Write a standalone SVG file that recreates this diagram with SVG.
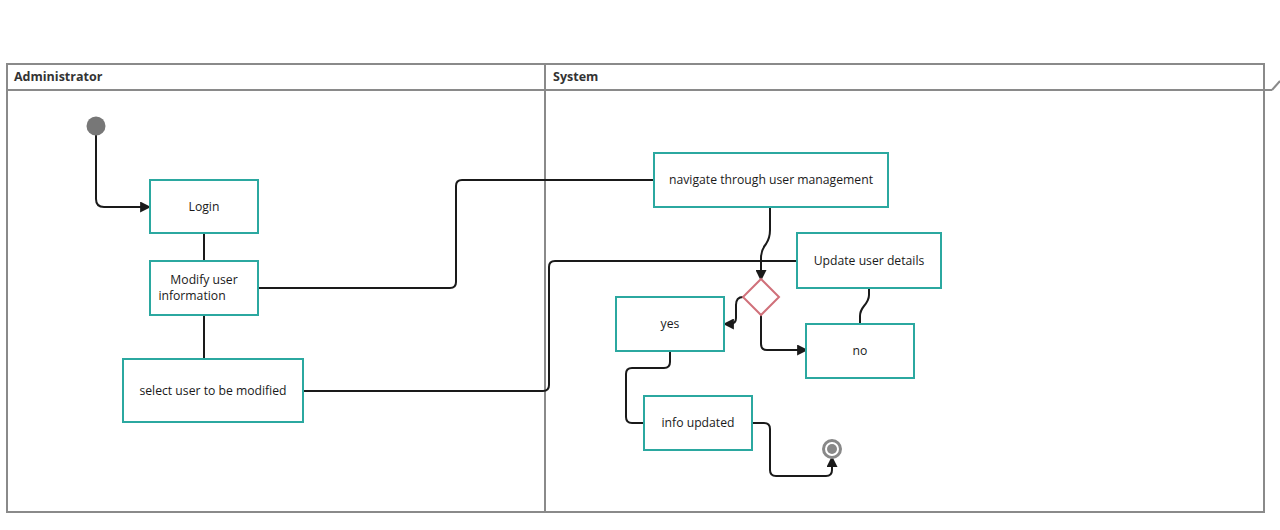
<svg xmlns="http://www.w3.org/2000/svg" width="1280" height="530" viewBox="0 0 1280 530">
<defs>
<marker id="arr" viewBox="0 0 10 10" refX="9" refY="5" markerWidth="11" markerHeight="11" markerUnits="userSpaceOnUse" orient="auto">
<path d="M0,0 L10,5 L0,10 Z" fill="#1a1a1a"/>
</marker>
<style>
.lane{fill:none;stroke:#8a8a8a;stroke-width:2}
.title{font-family:"Open Sans","Noto Sans",sans-serif;font-size:12.5px;font-weight:bold;fill:#333}
.box{fill:#fff;stroke:#2ba8a0;stroke-width:2}
.lbl{font-family:"Open Sans","Noto Sans",sans-serif;font-size:12.2px;fill:#1a1a1a;text-anchor:middle;dominant-baseline:central}
.c{fill:none;stroke:#1a1a1a;stroke-width:2}
</style>
</defs>
<rect width="1280" height="530" fill="#fff"/>
<g id="lanes">
<rect class="lane" x="7" y="64" width="1257" height="448"/>
<line class="lane" x1="7" y1="90" x2="1272" y2="90"/>
<line class="lane" x1="1272" y1="90" x2="1280" y2="81" stroke-width="1"/>
<line class="lane" x1="545" y1="64" x2="545" y2="512"/>
<text class="title" x="14" y="81">Administrator</text>
<text class="title" x="553" y="81">System</text>
</g>
<g id="connectors">
<path class="c" d="M96,135 V199 Q96,207 104,207 H150" marker-end="url(#arr)"/>
<path class="c" d="M204,233 V261"/>
<path class="c" d="M204,315 V359"/>
<path class="c" d="M258,288 H450 Q456,288 456,282 V186 Q456,180 462,180 H654"/>
<path class="c" d="M303,391 H543 Q549,391 549,385 V267 Q549,261 555,261 H797"/>
<path class="c" d="M770,207 V230 Q770,238 766,244 Q761,250 761,258 V280" marker-end="url(#arr)"/>
<path class="c" d="M743,297 Q736,297 736,305 V318 Q736,324 730,324 H724" marker-end="url(#arr)"/>
<path class="c" d="M761,315 V344 Q761,350 767,350 H807" marker-end="url(#arr)"/>
<path class="c" d="M869,288 V295 Q869,300 864,306 Q860,311 860,316 V324"/>
<path class="c" d="M670,351 V362 Q670,368 664,368 H632 Q626,368 626,374 V417 Q626,423 632,423 H644"/>
<path class="c" d="M752,423 H764 Q770,423 770,429 V470 Q770,476 776,476 H826 Q832,476 832,470 V457" marker-end="url(#arr)"/>
</g>
<g id="start"><circle cx="96" cy="126" r="9.5" fill="#777"/></g>
<g id="login"><rect class="box" x="150" y="180" width="108" height="53"/><text class="lbl" x="204" y="206">Login</text></g>
<g id="modify"><rect class="box" x="150" y="261" width="108" height="54"/><text class="lbl" x="204" y="279">Modify user</text><text class="lbl" x="192" y="295">information</text></g>
<g id="select"><rect class="box" x="123" y="359" width="180" height="63"/><text class="lbl" x="213" y="390">select user to be modified</text></g>
<g id="navigate"><rect class="box" x="654" y="153" width="234" height="54"/><text class="lbl" x="771" y="179">navigate through user management</text></g>
<g id="update"><rect class="box" x="797" y="233" width="144" height="55"/><text class="lbl" x="869" y="260">Update user details</text></g>
<g id="decision"><path d="M761,279 L779,297 L761,315 L743,297 Z" fill="#fff" stroke="#d0707a" stroke-width="2"/></g>
<g id="yes"><rect class="box" x="616" y="297" width="108" height="54"/><text class="lbl" x="670" y="323">yes</text></g>
<g id="no"><rect class="box" x="806" y="324" width="108" height="54"/><text class="lbl" x="860" y="350">no</text></g>
<g id="info"><rect class="box" x="644" y="396" width="108" height="54"/><text class="lbl" x="698" y="422">info updated</text></g>
<g id="end"><circle cx="832" cy="449" r="8.5" fill="#fff" stroke="#888" stroke-width="3"/><circle cx="832" cy="449" r="5" fill="#888"/></g>
</svg>
